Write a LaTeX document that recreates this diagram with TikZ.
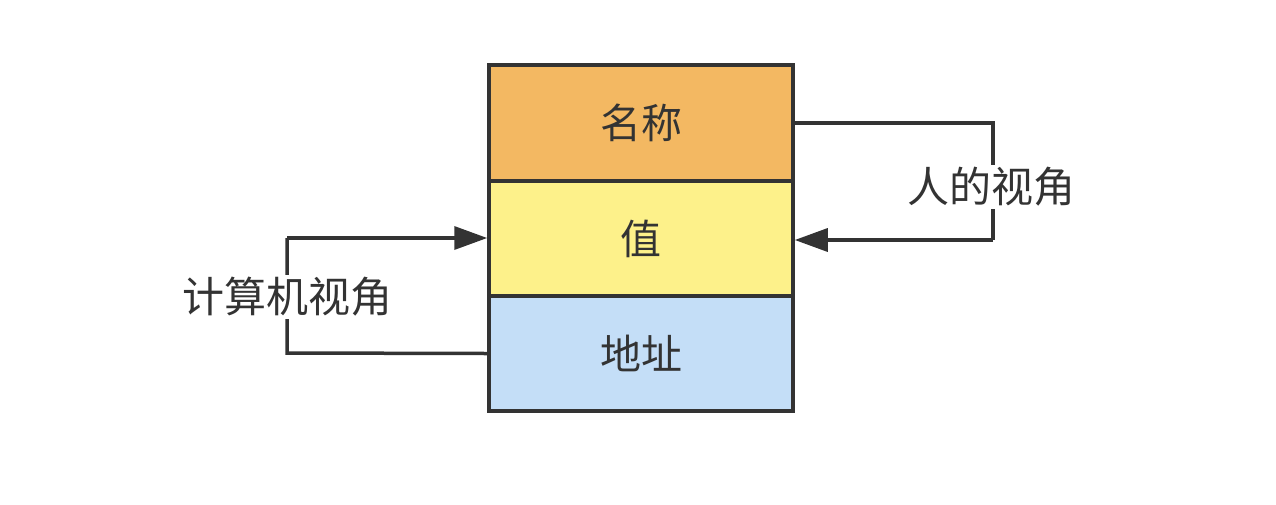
\documentclass[tikz,border=0pt]{standalone}
\usepackage{fontspec}
\setmainfont{Noto Sans CJK SC}
\usetikzlibrary{arrows.meta}
\definecolor{bordc}{HTML}{333333}
\definecolor{orangec}{HTML}{F3B862}
\definecolor{yellowc}{HTML}{FDF18A}
\definecolor{bluec}{HTML}{C4DEF7}
\definecolor{textc}{HTML}{333333}
\begin{document}
\begin{tikzpicture}[x=1pt,y=-1pt,
  cell/.style={draw=bordc,line width=3.5pt,minimum width=304pt,inner sep=0pt,
    font=\fontsize{41}{44}\selectfont,text=textc},
  conn/.style={draw=bordc,line width=3.5pt},
  arr/.style={-{Triangle[length=33pt,width=23pt]}},
  lbl/.style={fill=white,inner sep=2pt,font=\fontsize{42}{45}\selectfont,text=textc}]
\useasboundingbox (0,0) rectangle (1276,504);
\node[cell,fill=orangec,minimum height=116pt] (name) at (641,123) {名称};
\node[cell,fill=yellowc,minimum height=115pt] (value) at (641,238.5) {值};
\node[cell,fill=bluec,minimum height=115pt] (addr) at (641,353.5) {地址};
\coordinate (rtop) at (993,123);
\coordinate (rbot) at (993,240);
\coordinate (ltop) at (287,238);
\coordinate (lbot) at (287,353);
\draw[conn,line join=miter] (name.east) -- (rtop) -- (rbot);
\draw[conn,arr] (rbot) -- (value.east |- rbot);
\draw[conn] (addr.west) -- (lbot) -- (ltop);
\draw[conn,arr] (ltop) -- (value.west |- ltop);
\node[lbl] (hview) at (991,187) {人的视角};
\node[lbl] (cview) at (287,297) {计算机视角};
\end{tikzpicture}
\end{document}
